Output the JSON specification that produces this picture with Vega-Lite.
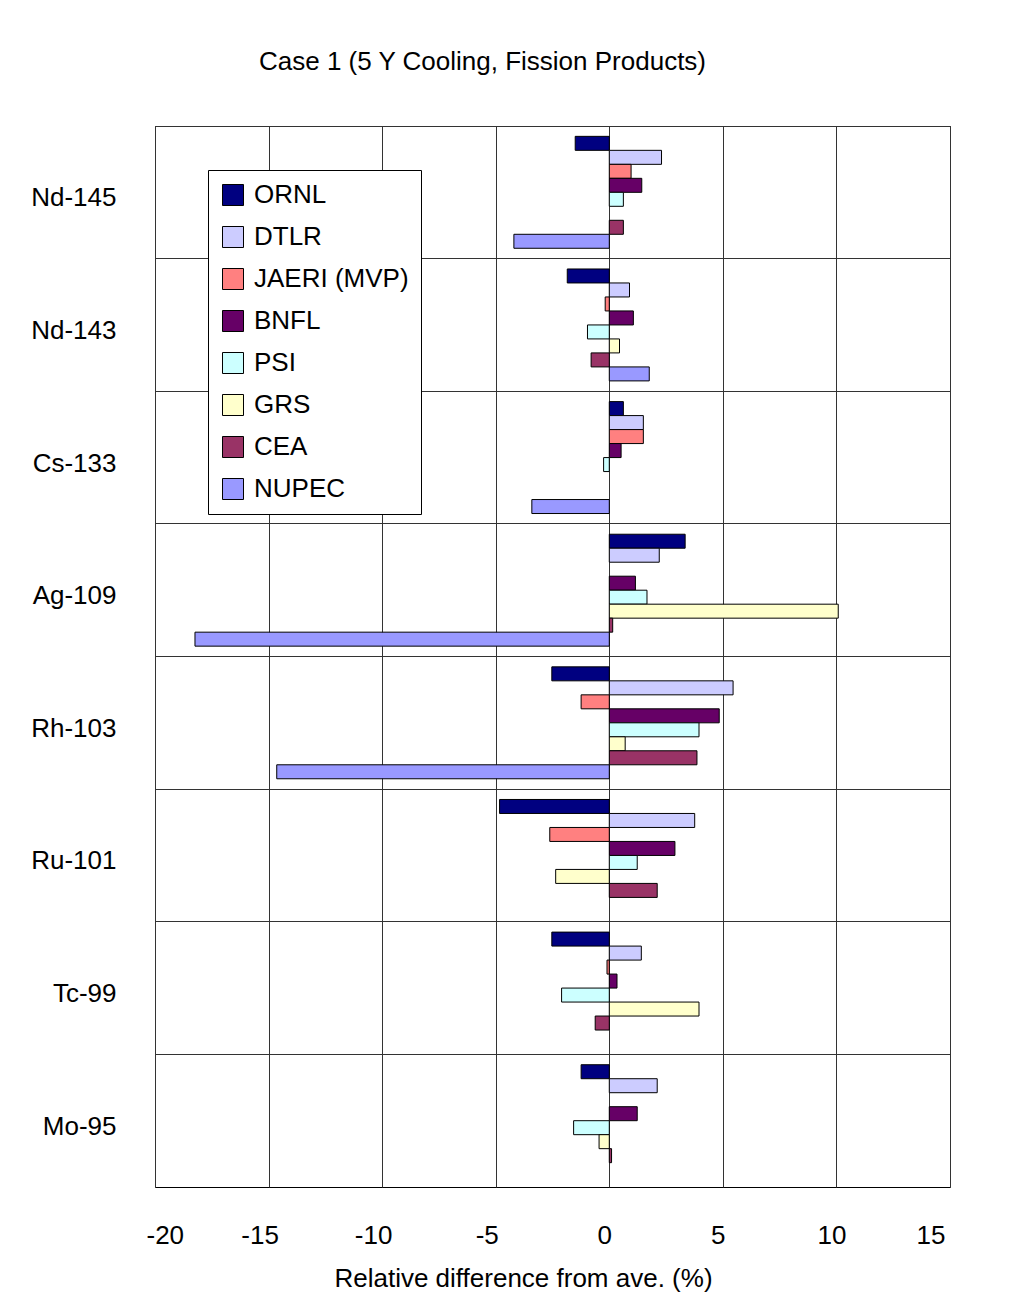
{
  "$schema": "https://vega.github.io/schema/vega-lite/v6.json",
  "autosize": "none",
  "width": 795,
  "height": 1061,
  "padding": {"left": 155, "top": 126, "right": 62, "bottom": 126},
  "background": "white",
  "title": {
    "text": "Case 1 (5 Y Cooling, Fission Products)",
    "font": "Liberation Sans",
    "fontSize": 26,
    "fontWeight": "normal",
    "color": "black",
    "anchor": "middle",
    "frame": "group",
    "baseline": "alphabetic",
    "offset": 30,
    "dx": -70
  },
  "data": {
    "values": [
      {"nuclide": "Nd-145", "lab": "ORNL", "value": -1.5},
      {"nuclide": "Nd-145", "lab": "DTLR", "value": 2.3},
      {"nuclide": "Nd-145", "lab": "JAERI (MVP)", "value": 0.96},
      {"nuclide": "Nd-145", "lab": "BNFL", "value": 1.43},
      {"nuclide": "Nd-145", "lab": "PSI", "value": 0.62},
      {"nuclide": "Nd-145", "lab": "CEA", "value": 0.62},
      {"nuclide": "Nd-145", "lab": "NUPEC", "value": -4.2},
      {"nuclide": "Nd-143", "lab": "ORNL", "value": -1.85},
      {"nuclide": "Nd-143", "lab": "DTLR", "value": 0.89},
      {"nuclide": "Nd-143", "lab": "JAERI (MVP)", "value": -0.18},
      {"nuclide": "Nd-143", "lab": "BNFL", "value": 1.06},
      {"nuclide": "Nd-143", "lab": "PSI", "value": -0.96},
      {"nuclide": "Nd-143", "lab": "GRS", "value": 0.45},
      {"nuclide": "Nd-143", "lab": "CEA", "value": -0.8},
      {"nuclide": "Nd-143", "lab": "NUPEC", "value": 1.76},
      {"nuclide": "Cs-133", "lab": "ORNL", "value": 0.62},
      {"nuclide": "Cs-133", "lab": "DTLR", "value": 1.5},
      {"nuclide": "Cs-133", "lab": "JAERI (MVP)", "value": 1.5},
      {"nuclide": "Cs-133", "lab": "BNFL", "value": 0.52},
      {"nuclide": "Cs-133", "lab": "PSI", "value": -0.25},
      {"nuclide": "Cs-133", "lab": "NUPEC", "value": -3.41},
      {"nuclide": "Ag-109", "lab": "ORNL", "value": 3.34},
      {"nuclide": "Ag-109", "lab": "DTLR", "value": 2.2},
      {"nuclide": "Ag-109", "lab": "BNFL", "value": 1.15},
      {"nuclide": "Ag-109", "lab": "PSI", "value": 1.66},
      {"nuclide": "Ag-109", "lab": "GRS", "value": 10.08},
      {"nuclide": "Ag-109", "lab": "CEA", "value": 0.15},
      {"nuclide": "Ag-109", "lab": "NUPEC", "value": -18.24},
      {"nuclide": "Rh-103", "lab": "ORNL", "value": -2.53},
      {"nuclide": "Rh-103", "lab": "DTLR", "value": 5.45},
      {"nuclide": "Rh-103", "lab": "JAERI (MVP)", "value": -1.24},
      {"nuclide": "Rh-103", "lab": "BNFL", "value": 4.84},
      {"nuclide": "Rh-103", "lab": "PSI", "value": 3.95},
      {"nuclide": "Rh-103", "lab": "GRS", "value": 0.7},
      {"nuclide": "Rh-103", "lab": "CEA", "value": 3.86},
      {"nuclide": "Rh-103", "lab": "NUPEC", "value": -14.64},
      {"nuclide": "Ru-101", "lab": "ORNL", "value": -4.83},
      {"nuclide": "Ru-101", "lab": "DTLR", "value": 3.76},
      {"nuclide": "Ru-101", "lab": "JAERI (MVP)", "value": -2.62},
      {"nuclide": "Ru-101", "lab": "BNFL", "value": 2.89},
      {"nuclide": "Ru-101", "lab": "PSI", "value": 1.23},
      {"nuclide": "Ru-101", "lab": "GRS", "value": -2.36},
      {"nuclide": "Ru-101", "lab": "CEA", "value": 2.11},
      {"nuclide": "Tc-99", "lab": "ORNL", "value": -2.53},
      {"nuclide": "Tc-99", "lab": "DTLR", "value": 1.41},
      {"nuclide": "Tc-99", "lab": "JAERI (MVP)", "value": -0.1},
      {"nuclide": "Tc-99", "lab": "BNFL", "value": 0.34},
      {"nuclide": "Tc-99", "lab": "PSI", "value": -2.1},
      {"nuclide": "Tc-99", "lab": "GRS", "value": 3.95},
      {"nuclide": "Tc-99", "lab": "CEA", "value": -0.62},
      {"nuclide": "Mo-95", "lab": "ORNL", "value": -1.24},
      {"nuclide": "Mo-95", "lab": "DTLR", "value": 2.11},
      {"nuclide": "Mo-95", "lab": "BNFL", "value": 1.23},
      {"nuclide": "Mo-95", "lab": "PSI", "value": -1.57},
      {"nuclide": "Mo-95", "lab": "GRS", "value": -0.45},
      {"nuclide": "Mo-95", "lab": "CEA", "value": 0.1}
    ]
  },
  "mark": {"type": "bar", "stroke": "black", "strokeWidth": 1},
  "encoding": {
    "y": {
      "field": "nuclide",
      "type": "nominal",
      "sort": ["Nd-145", "Nd-143", "Cs-133", "Ag-109", "Rh-103", "Ru-101", "Tc-99", "Mo-95"],
      "scale": {"paddingInner": 0, "paddingOuter": 0},
      "axis": {
        "title": null,
        "grid": true,
        "bandPosition": 0,
        "ticks": false,
        "domain": false,
        "gridColor": "#333333",
        "gridWidth": 1,
        "gridOpacity": 1,
        "labelFont": "Liberation Sans",
        "labelFontSize": 26,
        "labelColor": "black",
        "labelPadding": 39,
        "labelOffset": 6
      }
    },
    "yOffset": {
      "field": "lab",
      "type": "nominal",
      "sort": ["ORNL", "DTLR", "JAERI (MVP)", "BNFL", "PSI", "GRS", "CEA", "NUPEC"],
      "scale": {"paddingInner": 0, "paddingOuter": 0.74}
    },
    "x": {
      "field": "value",
      "type": "quantitative",
      "scale": {"domain": [-20, 15], "nice": false, "zero": false},
      "axis": {
        "values": [-20, -15, -10, -5, 0, 5, 10, 15],
        "labelExpr": "'' + datum.value",
        "title": "Relative difference from ave. (%)",
        "grid": true,
        "ticks": false,
        "domain": false,
        "gridColor": "#333333",
        "gridWidth": 1,
        "gridOpacity": 1,
        "labelFont": "Liberation Sans",
        "labelFontSize": 26,
        "labelColor": "black",
        "labelPadding": 35,
        "labelOffset": {"condition": {"test": "datum.value < 0", "value": -9}, "value": -5},
        "titleFont": "Liberation Sans",
        "titleFontSize": 26,
        "titleFontWeight": "normal",
        "titleColor": "black",
        "titlePadding": 17,
        "titleX": 368,
        "titleAlign": "center"
      }
    },
    "color": {
      "field": "lab",
      "type": "nominal",
      "scale": {
        "domain": ["ORNL", "DTLR", "JAERI (MVP)", "BNFL", "PSI", "GRS", "CEA", "NUPEC"],
        "range": ["#000080", "#CCCCFF", "#FF8080", "#660066", "#CCFFFF", "#FFFFCC", "#993366", "#9999FF"]
      },
      "legend": {
        "title": null,
        "orient": "none",
        "legendX": 53,
        "legendY": 44,
        "strokeColor": "black",
        "fillColor": "white",
        "padding": 12,
        "symbolType": "square",
        "symbolSize": 441,
        "symbolStrokeColor": "black",
        "symbolStrokeWidth": 1,
        "symbolOpacity": 1,
        "labelFont": "Liberation Sans",
        "labelFontSize": 26,
        "labelColor": "black",
        "labelOffset": 8,
        "labelLimit": 400,
        "labelExpr": "datum.label + '\u00a0\u00a0'",
        "rowPadding": 16
      }
    }
  },
  "config": {
    "view": {"stroke": "black", "strokeWidth": 1}
  }
}
